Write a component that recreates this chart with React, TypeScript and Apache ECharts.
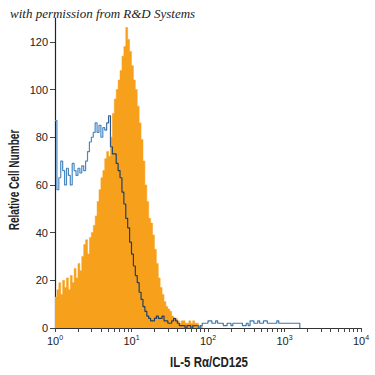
import React, { useEffect, useRef } from "react";
import * as echarts from "echarts";

// histogram bins: left edge of bin i is at log10(x) = i * binWidth
const binWidth = 0.025;
const stainedCounts = [
  13, 16, 19, 14, 20, 17, 21, 16, 22, 19,
  25, 21, 27, 24, 30, 35, 37, 31, 38, 40,
  43, 47, 53, 58, 63, 66, 71, 74, 72, 80,
  90, 96, 100, 104, 108, 114, 118, 126, 121, 116,
  110, 104, 100, 93, 86, 79, 70, 60, 53, 46,
  44, 39, 33, 27, 21, 17, 14, 11, 9, 8,
  7, 5, 4, 4, 3, 2, 3, 3, 2, 2,
  3, 2, 3, 2, 2, 1, 1, 0,
];
const controlCounts = [
  87, 58, 63, 70, 66, 60, 67, 64, 60, 69,
  66, 64, 67, 65, 68, 66, 70, 74, 78, 80,
  82, 86, 82, 85, 80, 84, 83, 86, 89, 76,
  73, 73, 69, 66, 63, 57, 52, 46, 42, 36,
  31, 26, 22, 19, 15, 12, 9, 7, 5, 4,
  3, 3, 4, 5, 4, 4, 5, 3, 3, 2,
  2, 3, 4, 3, 2, 1,
  1, 1, 0, 1, 1, 0, 1, 1, 1, 0, 1,
  2, 2, 2, 3, 3, 2, 2, 3, 2, 2, 2, 1,
  1, 2, 2, 1, 2, 2, 2,
  2, 2, 1, 1, 2, 1,
  3, 3, 2, 2, 3, 2, 2, 3, 3, 2,
  2, 2, 2, 2, 3, 2, 2, 2, 2, 2,
  2, 2, 2, 2, 2, 2, 0,
];
const yTickValues = [0, 20, 40, 60, 80, 100, 120];
const xDecades = [0, 1, 2, 3, 4];
const yMax = 130;

const toPairs = (arr: number[]) => arr.map((v, i) => [i * binWidth, v]);

const minorTicks: number[] = [];
for (let d = 0; d < 4; d++) {
  for (let k = 1; k <= 9; k++) minorTicks.push(d + Math.log10(k));
}
minorTicks.push(4);

const FONT = '"Liberation Sans Narrow", "Liberation Sans", sans-serif';

export default function App() {
  const ref = useRef<HTMLDivElement>(null);
  useEffect(() => {
    if (!ref.current) return;
    const chart = echarts.init(ref.current, null, { renderer: "svg" });
    chart.setOption({
      animation: false,
      backgroundColor: "#ffffff",
      grid: { left: 55, right: 14, top: 18, bottom: 47 },
      xAxis: {
        type: "value",
        min: 0,
        max: 4,
        splitLine: { show: false },
        axisLine: { show: true, lineStyle: { color: "#333", width: 1 } },
        axisTick: {
          show: true,
          length: 4,
          customValues: minorTicks,
          lineStyle: { color: "#444" },
        },
        axisLabel: {
          customValues: xDecades,
          margin: 6,
          fontFamily: FONT,
          color: "#222",
          formatter: (v: number) => `{b|10}{s|${Math.round(v)}}`,
          rich: {
            b: { fontSize: 11, fontFamily: FONT, color: "#222" },
            s: { fontSize: 7, fontFamily: FONT, color: "#222", padding: [0, 0, 7, 0] },
          },
        },
      },
      yAxis: {
        type: "value",
        min: 0,
        max: yMax,
        splitLine: { show: false },
        axisLine: { show: true, lineStyle: { color: "#1a2233", width: 1.2 } },
        axisTick: {
          show: true,
          length: 5,
          customValues: yTickValues,
          lineStyle: { color: "#444" },
        },
        axisLabel: {
          customValues: yTickValues,
          margin: 7,
          fontSize: 11,
          fontFamily: FONT,
          color: "#222",
        },
      },
      series: [
        {
          type: "line",
          step: "end",
          symbol: "none",
          data: toPairs(stainedCounts),
          lineStyle: { width: 0.5, color: "#F6A01C" },
          areaStyle: { color: "#F6A01C", opacity: 1 },
          z: 2,
        },
        {
          type: "line",
          step: "end",
          symbol: "none",
          data: toPairs(controlCounts),
          lineStyle: {
            width: 1.2,
            color: new echarts.graphic.LinearGradient(0, 0, 1, 0, [
              { offset: 0, color: "#4a88c2" },
              { offset: 0.2, color: "#4a88c2" },
              { offset: 0.24, color: "#203f63" },
              { offset: 0.55, color: "#203f63" },
              { offset: 0.6, color: "#3c78ae" },
              { offset: 1, color: "#3c78ae" },
            ]),
          },
          z: 3,
        },
      ],
      graphic: [
        {
          type: "text",
          left: 10,
          top: 7,
          style: {
            text: "with permission from R&D Systems",
            font: 'italic 13px "Liberation Serif", serif',
            fill: "#222",
          },
        },
        {
          type: "group",
          x: 14,
          y: 180,
          rotation: Math.PI / 2,
          children: [
            {
              type: "text",
              x: 0,
              y: 0,
              scaleX: 0.72,
              style: {
                text: "Relative Cell Number",
                font: `bold 14px ${FONT}`,
                fill: "#222",
                align: "center",
                verticalAlign: "middle",
              },
            },
          ],
        },
        {
          type: "text",
          x: 209,
          y: 362,
          scaleX: 0.82,
          style: {
            text: "IL-5 Rα/CD125",
            font: `bold 14px ${FONT}`,
            fill: "#222",
            align: "center",
            verticalAlign: "middle",
          },
        },
      ],
    });
    return () => chart.dispose();
  }, []);
  return <div ref={ref} style={{ width: 375, height: 375, position: "absolute", left: 0, top: 0 }} />;
}
